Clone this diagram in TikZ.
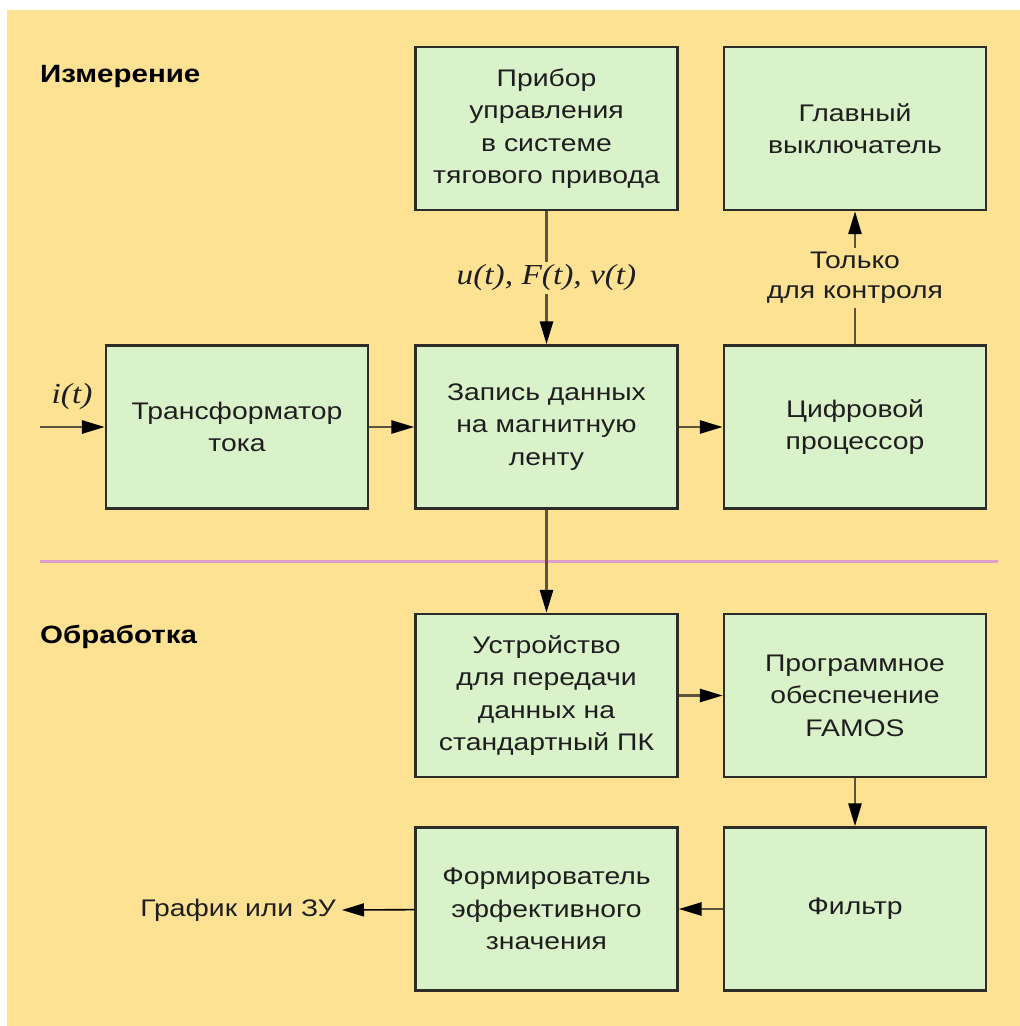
\documentclass[tikz,border=0pt]{standalone}
\usepackage{fontspec}
\setmainfont{Liberation Sans}[FakeStretch=1.18]
\newfontfamily\lblserif{Liberation Serif}[FakeStretch=1.15]
\usetikzlibrary{arrows.meta}
\definecolor{bgyellow}{RGB}{253,226,148}
\definecolor{boxgreen}{RGB}{218,242,202}
\definecolor{boxline}{RGB}{45,45,40}
\definecolor{linecol}{RGB}{92,84,60}
\definecolor{sepcol}{RGB}{222,160,200}
\definecolor{txtcol}{RGB}{30,30,30}
\tikzset{
  blk/.style={draw=boxline, line width=2.4pt, fill=boxgreen, text=txtcol,
    minimum width=262pt, minimum height=163pt, align=center,
    font=\fontsize{24}{32.5}\selectfont, inner sep=0pt},
  conn/.style={draw=linecol, line width=2.8pt,
    -{Triangle[length=23pt,width=13pt,color=black]}},
  thinconn/.style={draw=black, line width=1.6pt,
    -{Triangle[length=22pt,width=13pt,color=black]}},
  lbl/.style={font=\fontsize{24}{30}\selectfont, align=center, text=txtcol},
  mathlbl/.style={font=\fontsize{29}{32}\lblserif\itshape, text=txtcol},
  heading/.style={font=\fontsize{25}{30}\selectfont\bfseries, anchor=west, inner sep=0pt}
}
\begin{document}
\begin{tikzpicture}[x=1pt,y=-1pt]
\useasboundingbox (0,0) rectangle (1020,1026);
\fill[white] (0,0) rectangle (1020,1026);
\fill[bgyellow] (7,10) rectangle (1030,1036);

% separator
\draw[sepcol, line width=3pt] (40,561) -- (998,561);

% headings
\node[heading] (h1) at (40,76) {Измерение};
\node[heading] (h2) at (40,637) {Обработка};

% boxes
\node[blk] (pribor) at (546.5,128.5) {Прибор\\управления\\в системе\\тягового привода};
\node[blk] (glav) at (855,128.5) {Главный\\выключатель};
\node[blk] (trans) at (237,427) {Трансформатор\\тока};
\node[blk] (zapis) at (546.5,427) {Запись данных\\на магнитную\\ленту};
\node[blk] (cifr) at (855,427) {Цифровой\\процессор};
\node[blk] (ustr) at (546.5,695.5) {Устройство\\для передачи\\данных на\\стандартный ПК};
\node[blk] (prog) at (855,695.5) {Программное\\обеспечение\\FAMOS};
\node[blk] (form) at (546.5,909) {Формирователь\\эффективного\\значения};
\node[blk] (filtr) at (855,909) {Фильтр};

% connectors
\coordinate (in) at (40,427);
\draw[conn] (in) -- (trans);
\node[mathlbl] (ilbl) at (72,397) {i(t)};
\draw[conn] (trans) -- (zapis);
\draw[conn] (zapis) -- (cifr);
\draw[conn] (pribor) -- node[mathlbl, fill=bgyellow, inner sep=3pt] (uft) {u(t), F(t), v(t)} (zapis);
\draw[conn] (cifr) -- node[lbl, fill=bgyellow, inner sep=4pt] (ctrl) {Только\\для контроля} (glav);
\draw[conn] (zapis) -- (ustr);
\draw[conn] (ustr) -- (prog);
\draw[conn] (prog) -- (filtr);
\draw[conn] (filtr) -- (form);
\coordinate (out) at (342,910);
\draw[thinconn] (form) -- (out);
\node[lbl, anchor=east, inner sep=0pt] (outlbl) at (336,910) {График или ЗУ};
\end{tikzpicture}
\end{document}
